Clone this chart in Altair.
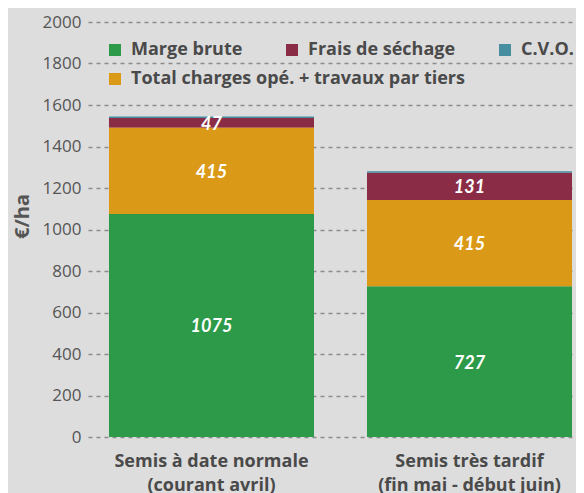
import altair as alt
import pandas as pd

categories = ["Semis à date normale|(courant avril)", "Semis très tardif|(fin mai - début juin)"]
series = ["Marge brute", "Total charges opé. + travaux par tiers", "Frais de séchage", "C.V.O."]
values_normal = [1075, 415, 47, 8]
values_tardif = [727, 415, 131, 8]
legend_row1 = ["Marge brute", "Frais de séchage", "C.V.O."]
colors_row1 = ["#2c9a48", "#8b2c46", "#468ea0"]
legend_row2 = ["Total charges opé. + travaux par tiers"]
colors_row2 = ["#da9a17"]
y_ticks = [0, 200, 400, 600, 800, 1000, 1200, 1400, 1600, 1800, 2000]

rows = []
for cat, vals in zip(categories, [values_normal, values_tardif]):
    for i, (s, v) in enumerate(zip(series, vals)):
        rows.append({"cat": cat, "series": s, "value": v, "idx": i, "lab": s != "C.V.O."})
df = pd.DataFrame(rows)

TXT = "#4a4a4a"
FONT = "Open Sans"

base = alt.Chart(df).transform_stack(
    stack="value", as_=["y0", "y1"], groupby=["cat"], sort=[alt.SortField("idx")]
).transform_calculate(ymid="(datum.y0 + datum.y1) / 2")

xenc = alt.X(
    "cat:N", sort=categories,
    scale=alt.Scale(paddingInner=0.2054, paddingOuter=0.0484, align=0.84),
    axis=alt.Axis(title=None, labelExpr="split(datum.label, '|')", labelAngle=0,
                  labelFontSize=18, labelFontWeight="bold", labelColor=TXT,
                  labelPadding=15, labelLineHeight=24, ticks=False, domain=False,
                  labelBaseline="top", labelLimit=400),
)

yenc = alt.Y("y0:Q", scale=alt.Scale(domain=[0, 2000], nice=False),
             axis=alt.Axis(values=y_ticks, format="d", title="€/ha", titleFontSize=20,
                           titleFontWeight="bold", titleColor="#555555",
                           titlePadding=10, titleY=194, labelFontSize=17,
                           labelColor="#555555", labelPadding=7, domain=False,
                           ticks=False, grid=True, gridDash=[4, 4],
                           gridColor="#8c8c8c", gridWidth=1.3))

leg_common = dict(title=None, orient="none", direction="horizontal",
                  symbolType="square", symbolSize=144, symbolStrokeWidth=0,
                  labelFontSize=18, labelFontWeight="bold", labelColor=TXT,
                  labelOffset=7, labelLimit=600, padding=0, columnPadding=40)

bars1 = base.transform_filter(
    alt.FieldOneOfPredicate(field="series", oneOf=legend_row1)
).mark_bar().encode(
    x=xenc, y=yenc, y2="y1:Q",
    color=alt.Color("series:N",
                    scale=alt.Scale(domain=legend_row1, range=colors_row1),
                    legend=alt.Legend(legendX=18, legendY=19, columns=3, **leg_common)),
)

bars2 = base.transform_filter(
    alt.FieldOneOfPredicate(field="series", oneOf=legend_row2)
).mark_bar().encode(
    x=xenc, y=yenc, y2="y1:Q",
    fill=alt.Fill("series:N",
                  scale=alt.Scale(domain=legend_row2, range=colors_row2),
                  legend=alt.Legend(legendX=18, legendY=48, **leg_common)),
)

labels = base.transform_filter("datum.lab").mark_text(
    color="white", font="Lato", fontStyle="italic", fontWeight="bold", fontSize=18, dy=2
).encode(
    x=xenc,
    y=alt.Y("ymid:Q"),
    text=alt.Text("value:Q"),
)

chart = alt.layer(bars1, bars2, labels).properties(
    width=488, height=415,
    autosize=alt.AutoSizeParams(type="none"),
    padding={"left": 80, "top": 14, "right": 0, "bottom": 56},
).configure(background="#dddddd", font=FONT).configure_view(stroke=None)

chart.save("out.html", embed_options={"renderer": "svg", "actions": False})
